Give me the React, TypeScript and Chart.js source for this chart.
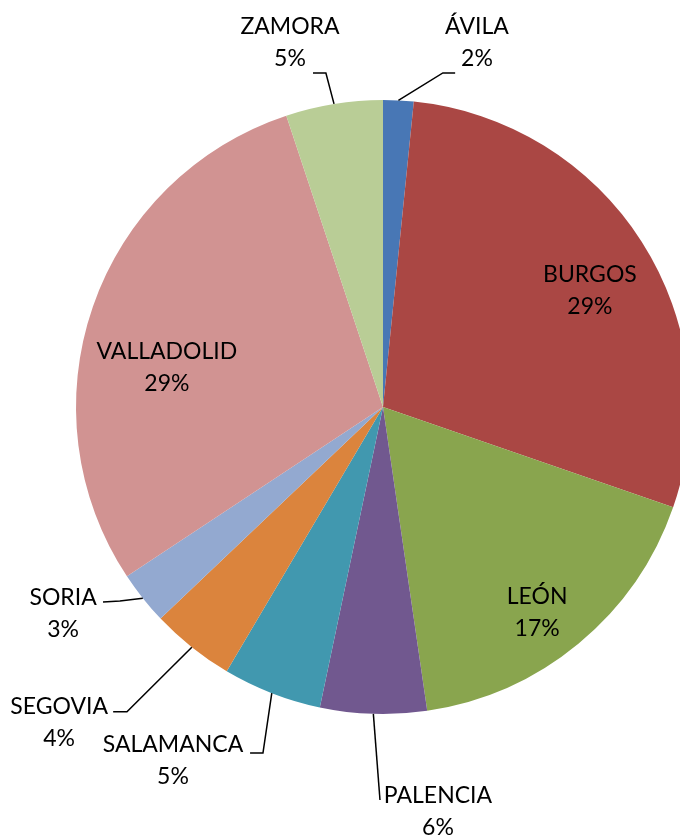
import React, { useEffect, useRef } from "react";
import { Chart, registerables } from "chart.js";

Chart.register(...registerables);

const provinces = ["ÁVILA", "BURGOS", "LEÓN", "PALENCIA", "SALAMANCA", "SEGOVIA", "SORIA", "VALLADOLID", "ZAMORA"];
const shares = [1.6, 28.7, 17.4, 5.6, 5.2, 4.4, 2.8, 29.2, 5.1];
const sliceColors = ["#4877B5", "#AA4744", "#89A54E", "#71588F", "#4198AF", "#DB843D", "#93A9D0", "#D19392", "#B9CD96"];

// label layout, in units of the pie radius relative to the pie centre
type Place = { label: [number, number]; leader?: [number, number][] };
const placements: Place[] = [
  { label: [0.306, -1.186], leader: [[0.195, -1.088], [0.235, -1.088]] },
  { label: [0.674, -0.378] },
  { label: [0.502, 0.671] },
  { label: [0.179, 1.319], leader: [[-0.0098, 1.28]] },
  { label: [-0.684, 1.153], leader: [[-0.391, 1.127], [-0.433, 1.127]] },
  { label: [-1.055, 1.029], leader: [[-0.834, 0.993], [-0.879, 0.993]] },
  { label: [-1.042, 0.674], leader: [[-0.857, 0.632], [-0.912, 0.635]] },
  { label: [-0.704, -0.13] },
  { label: [-0.303, -1.186], leader: [[-0.186, -1.088], [-0.228, -1.088]] },
];

const FONT = "23px Lato, 'Noto Sans', sans-serif";
const LINE_H = 32;

const labelPlugin = {
  id: "pieLabels",
  afterDatasetsDraw(chart: any) {
    const meta = chart.getDatasetMeta(0);
    const data = chart.data.datasets[0].data as number[];
    const total = data.reduce((a, b) => a + b, 0);
    const ctx = chart.ctx as CanvasRenderingContext2D;
    ctx.save();
    meta.data.forEach((arc: any, i: number) => {
      const { x, y, startAngle, endAngle, outerRadius } = arc.getProps(
        ["x", "y", "startAngle", "endAngle", "outerRadius"],
        true
      );
      const p = placements[i];
      const mid = (startAngle + endAngle) / 2;
      if (p.leader) {
        ctx.beginPath();
        ctx.strokeStyle = "#000";
        ctx.lineWidth = 1.5;
        ctx.moveTo(x + Math.cos(mid) * outerRadius, y + Math.sin(mid) * outerRadius);
        p.leader.forEach(([dx, dy]) => ctx.lineTo(x + dx * outerRadius, y + dy * outerRadius));
        ctx.stroke();
      }
      const cx = x + p.label[0] * outerRadius;
      const cy = y + p.label[1] * outerRadius;
      ctx.font = FONT;
      ctx.fillStyle = "#000";
      ctx.textAlign = "center";
      ctx.textBaseline = "middle";
      const pct = Math.round((data[i] / total) * 100) + "%";
      ctx.fillText(chart.data.labels[i], cx, cy - LINE_H / 2);
      ctx.fillText(pct, cx, cy + LINE_H / 2);
    });
    ctx.restore();
  },
};

export default function App() {
  const ref = useRef<HTMLCanvasElement>(null);
  useEffect(() => {
    if (!ref.current) return;
    const chart = new Chart(ref.current, {
      type: "pie",
      data: {
        labels: provinces,
        datasets: [
          {
            data: shares,
            backgroundColor: sliceColors,
            borderWidth: 0,
            radius: 307,
            clip: false,
          } as any,
        ],
      },
      options: {
        responsive: false,
        animation: false,
        layout: { padding: { left: 86, right: 0, top: 0, bottom: 24 } },
        plugins: { legend: { display: false }, tooltip: { enabled: false } },
      },
      plugins: [labelPlugin],
    });
    return () => chart.destroy();
  }, []);
  return (
    <div style={{ position: "fixed", left: 0, top: 0, width: 680, height: 838, background: "#fff" }}>
      <canvas ref={ref} width={680} height={838} />
    </div>
  );
}
